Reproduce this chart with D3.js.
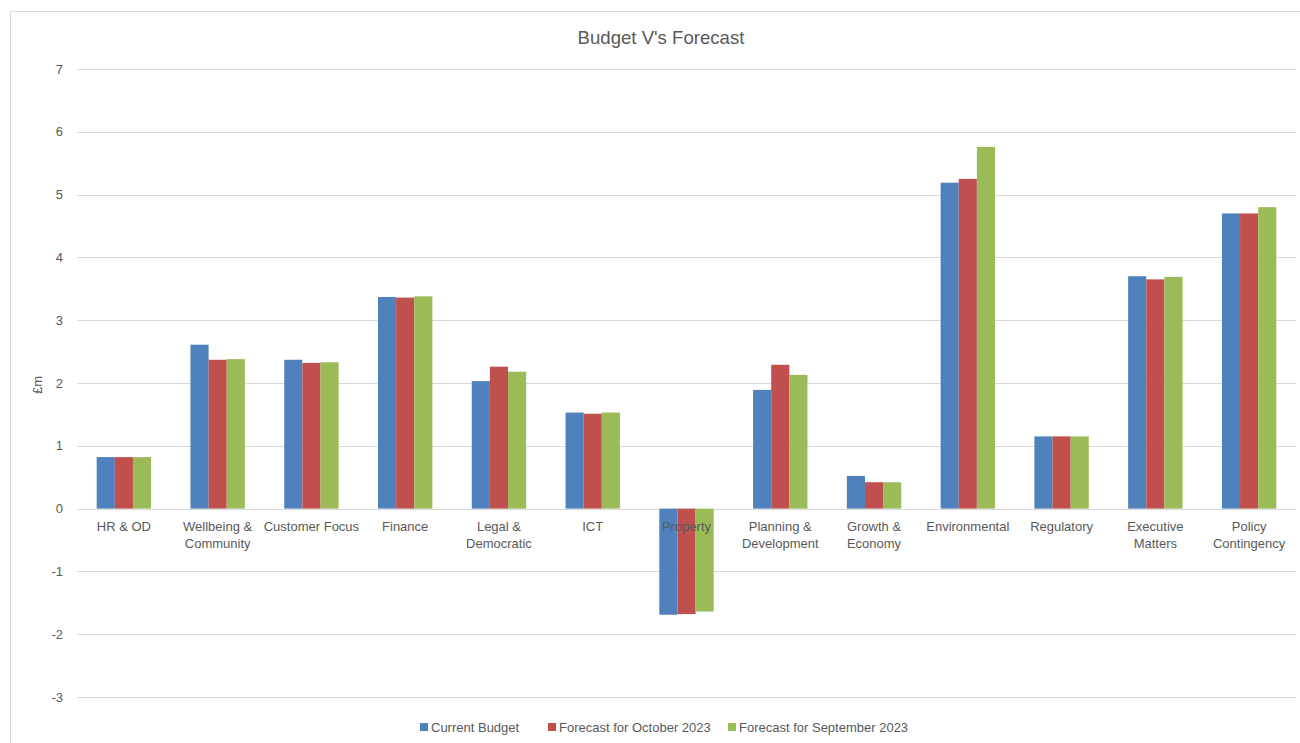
<!DOCTYPE html>
<html>
<head>
<meta charset="utf-8">
<script src="https://cdn.jsdelivr.net/npm/d3@7"></script>
<style>
  body { margin: 0; background: #fff; }
  svg { display: block; font-family: "Liberation Sans", Arial, sans-serif; }
</style>
</head>
<body>
<svg id="chart" width="1300" height="743"></svg>
<script>
const categories = ["HR & OD", "Wellbeing & Community", "Customer Focus", "Finance", "Legal & Democratic", "ICT", "Property", "Planning & Development", "Growth & Economy", "Environmental", "Regulatory", "Executive Matters", "Policy Contingency"];
const categoryLines = [["HR & OD"], ["Wellbeing &", "Community"], ["Customer Focus"], ["Finance"], ["Legal &", "Democratic"], ["ICT"], ["Property"], ["Planning &", "Development"], ["Growth &", "Economy"], ["Environmental"], ["Regulatory"], ["Executive", "Matters"], ["Policy", "Contingency"]];
const seriesNames = ["Current Budget", "Forecast for October 2023", "Forecast for September 2023"];
const currentBudget = [0.82, 2.61, 2.37, 3.37, 2.03, 1.53, -1.69, 1.89, 0.52, 5.19, 1.15, 3.70, 4.70];
const forecastOct = [0.82, 2.37, 2.32, 3.36, 2.26, 1.51, -1.68, 2.29, 0.42, 5.25, 1.15, 3.65, 4.70];
const forecastSep = [0.82, 2.38, 2.33, 3.38, 2.18, 1.53, -1.64, 2.13, 0.42, 5.76, 1.15, 3.69, 4.80];
const yTicks = [-3, -2, -1, 0, 1, 2, 3, 4, 5, 6, 7];
const colors = ["#4F81BD", "#C0504D", "#9BBB59"];

const svg = d3.select("#chart");

// chart border
svg.append("rect").attr("x", 10.5).attr("y", 11.5).attr("width", 1300).attr("height", 740)
  .attr("fill", "#fff").attr("stroke", "#D9D9D9").attr("stroke-width", 1);

const plot = { left: 77, right: 1296, top: 69, bottom: 697 };
const y = d3.scaleLinear().domain([-3, 7]).range([plot.bottom, plot.top]);
const x0 = d3.scaleBand().domain(categories).range([plot.left, plot.right]).paddingInner(0.42).paddingOuter(0.21);
const x1 = d3.scaleBand().domain(seriesNames).range([0, x0.bandwidth()]);

// gridlines
svg.append("g").selectAll("line").data(yTicks).join("line")
  .attr("x1", plot.left).attr("x2", plot.right)
  .attr("y1", d => Math.round(y(d)) + 0.5).attr("y2", d => Math.round(y(d)) + 0.5)
  .attr("stroke", "#D9D9D9").attr("stroke-width", 1);

// y tick labels
svg.append("g").selectAll("text").data(yTicks).join("text")
  .attr("x", 63).attr("y", d => y(d)).attr("dy", "0.35em")
  .attr("text-anchor", "end").attr("font-size", 13).attr("fill", "#595959")
  .text(d => d);

// y axis title
svg.append("text").attr("transform", `translate(42,${y(2) + 2}) rotate(-90)`)
  .attr("text-anchor", "middle").attr("font-size", 13).attr("fill", "#595959").text("£m");

// bars
const data = categories.map((c, i) => ({ cat: c, vals: [currentBudget[i], forecastOct[i], forecastSep[i]] }));
const groups = svg.append("g").selectAll("g").data(data).join("g")
  .attr("transform", d => `translate(${x0(d.cat)},0)`);
groups.selectAll("rect").data(d => d.vals.map((v, j) => ({ v, s: seriesNames[j], j }))).join("rect")
  .attr("x", d => x1(d.s))
  .attr("width", x1.bandwidth())
  .attr("y", d => y(Math.max(0, d.v)))
  .attr("height", d => Math.abs(y(d.v) - y(0)))
  .attr("fill", d => colors[d.j]);

// category labels
const lbl = svg.append("g").selectAll("text").data(categories).join("text")
  .attr("x", d => x0(d) + x0.bandwidth() / 2)
  .attr("y", 531)
  .attr("text-anchor", "middle").attr("font-size", 13).attr("fill", "#595959");
lbl.each(function(d, i) {
  const t = d3.select(this);
  categoryLines[i].forEach((line, k) => {
    t.append("tspan").attr("x", x0(d) + x0.bandwidth() / 2).attr("dy", k === 0 ? 0 : 17).text(line);
  });
});

// title
svg.append("text").attr("x", 661).attr("y", 44).attr("text-anchor", "middle")
  .attr("font-size", 18.6).attr("fill", "#595959").text("Budget V's Forecast");

// legend
const legendX = [420, 548, 728];
const leg = svg.append("g").selectAll("g").data(seriesNames).join("g")
  .attr("transform", (d, i) => `translate(${legendX[i]},727)`);
leg.append("rect").attr("x", 0).attr("y", -4).attr("width", 8).attr("height", 8).attr("fill", (d, i) => colors[i]);
leg.append("text").attr("x", 11).attr("y", 0).attr("dy", "0.35em").attr("font-size", 13).attr("fill", "#595959").text(d => d);
</script>
</body>
</html>
